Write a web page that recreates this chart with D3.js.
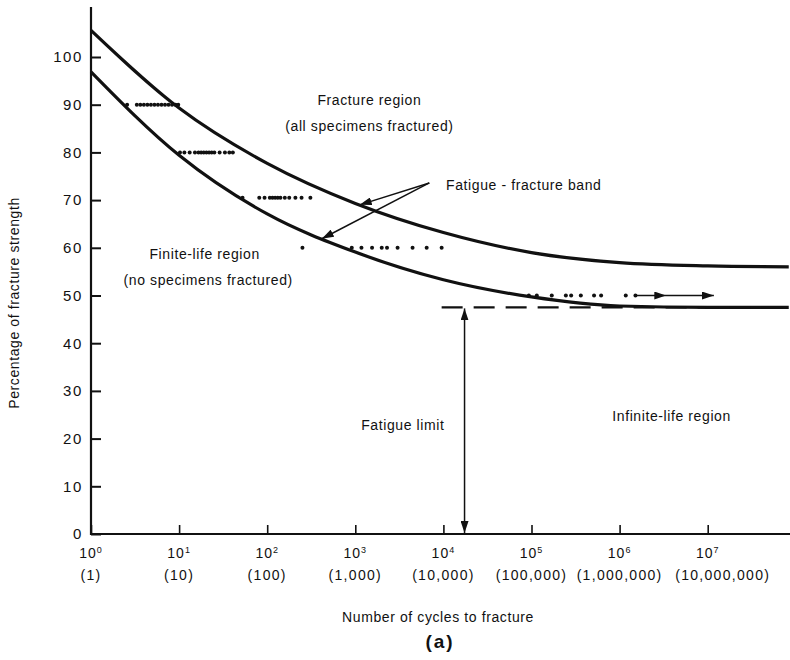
<!DOCTYPE html>
<html>
<head>
<meta charset="utf-8">
<script src="https://cdn.jsdelivr.net/npm/d3@7"></script>
<style>
    body { margin: 0; background: #fff; }
    svg text { font-family: "Liberation Sans", Arial, Helvetica, sans-serif; fill: #111; }
</style>
</head>
<body>
<svg id="chart"></svg>
<script>
// tick values
const pctTicks = [0, 10, 20, 30, 40, 50, 60, 70, 80, 90, 100];
const cycleExponents = [0, 1, 2, 3, 4, 5, 6, 7];
const cycleLabels = ['(1)', '(10)', '(100)', '(1,000)', '(10,000)', '(100,000)', '(1,000,000)', '(10,000,000)'];

// band boundaries: log10(cycles) -> % of fracture strength
const upperLog = [0, 1, 2, 3, 4, 5, 6, 7, 7.92];
const upperPct = [105.6, 89.3, 77.7, 69.3, 63.2, 59.0, 56.9, 56.2, 56.0];
const lowerLog = [0, 1, 2, 3, 4, 5, 6, 7, 7.92];
const lowerPct = [96.9, 79.4, 67.1, 59.1, 53.3, 49.7, 47.8, 47.5, 47.5];

// test results at each stress level (log10 cycles to fracture)
const testLevels = [90, 80, 70.5, 60, 50];
const testLogs = [
    [0.41, 0.52, 0.56, 0.60, 0.64, 0.68, 0.72, 0.76, 0.80, 0.84, 0.88, 0.92, 0.96, 0.99],
    [1.01, 1.06, 1.12, 1.18, 1.22, 1.25, 1.28, 1.31, 1.34, 1.37, 1.40, 1.46, 1.52, 1.57, 1.61],
    [1.72, 1.91, 1.97, 2.03, 2.06, 2.09, 2.12, 2.15, 2.20, 2.25, 2.32, 2.39, 2.49],
    [2.40, 2.96, 3.07, 3.19, 3.30, 3.36, 3.48, 3.65, 3.81, 3.98],
    [4.97, 5.06, 5.23, 5.39, 5.45, 5.56, 5.71, 5.79, 6.07, 6.18]
];
const runoutLog = [6.18, 6.53, 7.07];

const fatigueLimit = 47.5;
const fatigueLimitLog = 4.24;
const limitLineStartLog = 3.98;

class FatigueChart {
    constructor(_config) {
        this.config = {
            parentElement: _config.parentElement,
            containerWidth: _config.containerWidth || 790,
            containerHeight: _config.containerHeight || 660
        }
        this.initVis();
    }

    initVis() {
        let vis = this;

        vis.svg = d3.select(vis.config.parentElement)
            .attr('width', vis.config.containerWidth)
            .attr('height', vis.config.containerHeight);

        vis.x = d3.scaleLog().domain([1, 1e8]).range([91, 91 + 8 * 88.1]);
        vis.y = d3.scaleLinear().domain([0, 100]).range([534, 57]);
        const px = l => vis.x(Math.pow(10, l));

        // arrow heads
        const defs = vis.svg.append('defs');
        defs.append('marker')
            .attr('id', 'head')
            .attr('viewBox', '0 0 12 8')
            .attr('refX', 12).attr('refY', 4)
            .attr('markerWidth', 12).attr('markerHeight', 8)
            .attr('markerUnits', 'userSpaceOnUse')
            .attr('orient', 'auto-start-reverse')
            .append('path')
            .attr('d', 'M0,0 L12,4 L0,8 Z')
            .attr('fill', '#111');

        // axes
        let yAxis = d3.axisLeft(vis.y).tickValues(pctTicks).tickSize(-10).tickSizeOuter(0).tickPadding(8);
        let yg = vis.svg.append('g')
            .attr('class', 'y-axis')
            .attr('transform', 'translate(91,0)')
            .call(yAxis);
        yg.select('.domain').remove();
        yg.selectAll('line').attr('stroke', '#111').attr('stroke-width', 2);
        yg.selectAll('text')
            .style('font-size', '15px')
            .style('letter-spacing', '1.6px')
            .attr('fill', '#111');

        let xAxis = d3.axisBottom(vis.x)
            .tickValues(cycleExponents.map(e => Math.pow(10, e)))
            .tickSize(-9).tickSizeOuter(0).tickFormat('');
        let xg = vis.svg.append('g')
            .attr('class', 'x-axis')
            .attr('transform', 'translate(0,534)')
            .call(xAxis);
        xg.select('.domain').remove();
        xg.selectAll('line').attr('stroke', '#111').attr('stroke-width', 1.6);

        vis.svg.append('line')
            .attr('x1', 91).attr('x2', 91)
            .attr('y1', vis.y(0) + 1).attr('y2', vis.y(110.5))
            .attr('stroke', '#111').attr('stroke-width', 2.2);
        vis.svg.append('line')
            .attr('x1', 90).attr('x2', 790)
            .attr('y1', vis.y(0)).attr('y2', vis.y(0))
            .attr('stroke', '#111').attr('stroke-width', 2.2);

        // x tick labels: power of ten and count
        let xl = vis.svg.append('g').selectAll('g')
            .data(cycleExponents)
            .join('g')
            .attr('transform', d => `translate(${vis.x(Math.pow(10, d))},0)`);
        let pow = xl.append('text')
            .attr('y', 558)
            .attr('text-anchor', 'middle')
            .style('font-size', '14px')
            .style('letter-spacing', '1px');
        pow.append('tspan').text('10');
        pow.append('tspan').attr('dy', -5).style('font-size', '9px').text(d => d);
        xl.append('text')
            .attr('y', 580)
            .attr('dx', (d, i) => i === cycleLabels.length - 1 ? 15 : 0)
            .attr('text-anchor', 'middle')
            .style('font-size', '14px')
            .style('letter-spacing', '1.3px')
            .text((d, i) => cycleLabels[i]);

        // axis titles
        vis.svg.append('text')
            .attr('x', 438).attr('y', 622)
            .attr('text-anchor', 'middle')
            .style('font-size', '14px')
            .style('letter-spacing', '0.6px')
            .text('Number of cycles to fracture');
        vis.svg.append('text')
            .attr('x', 440).attr('y', 648)
            .attr('text-anchor', 'middle')
            .style('font-size', '19px')
            .style('font-weight', 'bold')
            .style('letter-spacing', '2px')
            .text('(a)');
        vis.svg.append('text')
            .attr('transform', 'translate(19,303) rotate(-90)')
            .attr('text-anchor', 'middle')
            .style('font-size', '14px')
            .style('letter-spacing', '0.6px')
            .text('Percentage of fracture strength');

        // band curves
        let line = d3.line()
            .x(d => px(d[0]))
            .y(d => vis.y(d[1]))
            .curve(d3.curveMonotoneX);
        [[upperLog, upperPct], [lowerLog, lowerPct]].forEach(([ls, ps]) => {
            vis.svg.append('path')
                .attr('d', line(ls.map((l, i) => [l, ps[i]])))
                .attr('fill', 'none')
                .attr('stroke', '#111')
                .attr('stroke-width', 3.2);
        });

        // fatigue limit line
        vis.svg.append('line')
            .attr('x1', px(limitLineStartLog)).attr('x2', 790)
            .attr('y1', vis.y(fatigueLimit)).attr('y2', vis.y(fatigueLimit))
            .attr('stroke', '#111').attr('stroke-width', 2.2)
            .attr('stroke-dasharray', '21,11');

        // vertical double arrow down to the axis
        vis.svg.append('line')
            .attr('x1', px(fatigueLimitLog)).attr('x2', px(fatigueLimitLog))
            .attr('y1', vis.y(fatigueLimit) + 1).attr('y2', vis.y(0) - 1)
            .attr('stroke', '#111').attr('stroke-width', 1.5)
            .attr('marker-start', 'url(#head)')
            .attr('marker-end', 'url(#head)');

        // test points
        let pts = [];
        testLevels.forEach((lv, i) => testLogs[i].forEach(l => pts.push([l, lv])));
        vis.svg.append('g').selectAll('circle')
            .data(pts)
            .join('circle')
            .attr('cx', d => px(d[0]))
            .attr('cy', d => vis.y(d[1]))
            .attr('r', 2)
            .attr('fill', '#111');

        // run-out arrow (no failure)
        vis.svg.append('polyline')
            .attr('points', runoutLog.map(l => `${px(l)},${vis.y(testLevels[4])}`).join(' '))
            .attr('fill', 'none')
            .attr('stroke', '#111').attr('stroke-width', 1.5)
            .attr('marker-mid', 'url(#head)')
            .attr('marker-end', 'url(#head)');

        // band annotation arrows
        const from = [3.84, 73.6];
        [[3.05, 69.0], [2.62, 61.9]].forEach(to => {
            vis.svg.append('line')
                .attr('x1', px(from[0])).attr('y1', vis.y(from[1]))
                .attr('x2', px(to[0])).attr('y2', vis.y(to[1]))
                .attr('stroke', '#111').attr('stroke-width', 1.5)
                .attr('marker-end', 'url(#head)');
        });

        // region labels
        const labels = [
            { t: 'Fracture region', l: 3.16, v: 90.0, a: 'middle' },
            { t: '(all specimens fractured)', l: 3.16, v: 84.5, a: 'middle' },
            { t: 'Fatigue - fracture band', l: 4.03, v: 72.1, a: 'start' },
            { t: 'Finite-life region', l: 1.29, v: 57.7, a: 'middle' },
            { t: '(no specimens fractured)', l: 1.33, v: 52.2, a: 'middle' },
            { t: 'Fatigue limit', l: 3.54, v: 21.8, a: 'middle' },
            { t: 'Infinite-life region', l: 6.59, v: 23.7, a: 'middle' }
        ];
        vis.svg.append('g').selectAll('text')
            .data(labels)
            .join('text')
            .attr('x', d => px(d.l))
            .attr('y', d => vis.y(d.v))
            .attr('text-anchor', d => d.a)
            .style('font-size', '14px')
            .style('letter-spacing', '0.6px')
            .text(d => d.t);
    }
}

new FatigueChart({ parentElement: '#chart' });
</script>
</body>
</html>
